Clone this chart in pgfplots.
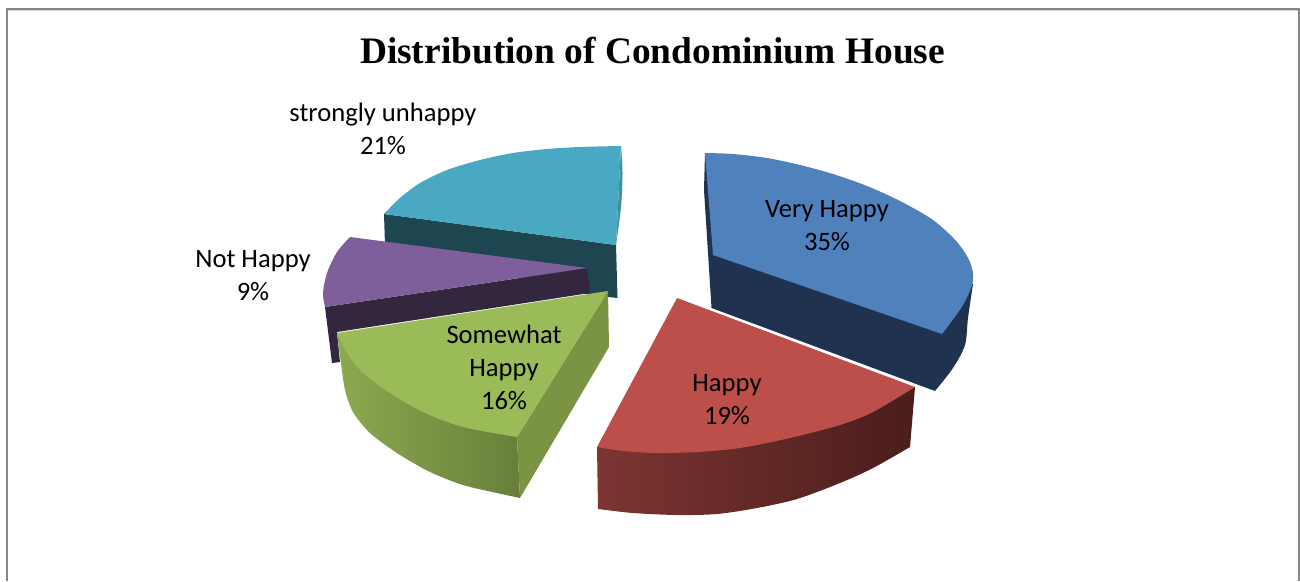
\documentclass[border=0pt]{standalone}
\usepackage{pgfplots}
\pgfplotsset{compat=1.18}
\usepackage{fontspec}
\setmainfont{Carlito}
\newfontfamily\titlefont{Liberation Serif}
\definecolor{cBlue}{HTML}{4F81BD}
\definecolor{cBlueD}{HTML}{1F3350}
\definecolor{cRed}{HTML}{BD4F4B}
\definecolor{cRedL}{HTML}{7C3532}
\definecolor{cRedM}{HTML}{54221F}
\definecolor{cRedR}{HTML}{4A1D1B}
\definecolor{cGreen}{HTML}{9BBB59}
\definecolor{cGreenS}{HTML}{7A9443}
\definecolor{cGreenL}{HTML}{8DA94F}
\definecolor{cGreenR}{HTML}{687F3A}
\definecolor{cPurple}{HTML}{7E5F9C}
\definecolor{cPurpleD}{HTML}{33263F}
\definecolor{cTeal}{HTML}{4AA9C2}
\definecolor{cTealS}{HTML}{3F8FA5}
\definecolor{cTealD}{HTML}{1E4650}
\definecolor{cFrame}{HTML}{868686}
\begin{document}
\begin{tikzpicture}
\begin{axis}[
  scale only axis, width=1300pt, height=581pt,
  xmin=0, xmax=1300, ymin=0, ymax=581, y dir=reverse,
  axis lines=none, clip=true, no markers,
]
% page
\addplot[fill=white, draw=none] coordinates {(0,0) (1300,0) (1300,581) (0,581)};
% frame
\addplot[draw=cFrame, line width=2pt] coordinates {(7,581) (7,9) (1299,9) (1299,581)};
\addplot[draw=black!18, line width=1pt] coordinates {(8,10.5) (1298,10.5)};
% teal
\addplot[fill=cTealD, draw=none] coordinates {(384,214) (616,245) (617.5,298) (590,295) (385,245)};
\addplot[smooth, fill=cTealS, draw=none] coordinates {(621,146) (622.5,173) (621,207) (616,245)};
\addplot[smooth, fill=cTeal, draw=none] coordinates {(621,146) (580,147) (547,149) (513,153) (480,160) (447,170) (420,183) (400,198) (384,214)} -- (axis cs:616,245) -- cycle;
% purple
\addplot[fill=cPurpleD, draw=none] coordinates {(325,307) (587,268) (590,293) (337,332) (340,362) (332,363)};
\addplot[smooth, fill=cPurple, draw=none] coordinates {(350,237) (337,252) (327,273) (323,293) (325,307)} -- (axis cs:587,268) -- cycle;
% green
\addplot[smooth, left color=cGreenL, right color=cGreenR, draw=none] coordinates {(341,363) (345,390) (353,412) (370,433) (397,453) (430,472) (463,485) (497,493) (520,498)} -- (axis cs:517,437) -- (axis cs:337,333) -- cycle;
\addplot[fill=cGreenS, draw=none] coordinates {(608,291) (609,347) (520,498) (517,437)};
\addplot[smooth, fill=cGreen, draw=none] coordinates {(337,333) (347,353) (363,373) (390,393) (423,412) (463,427) (517,437)} -- (axis cs:608,291) -- cycle;
% red
\addplot[smooth, left color=cRedL, middle color=cRedM, right color=cRedR, draw=none] coordinates {(598,509) (633,513) (677,515) (717,514) (757,508) (797,499) (840,483) (873,468) (910,447)} -- (axis cs:915,387) -- (axis cs:597,447) -- cycle;
\addplot[smooth, fill=cRed, draw=none] coordinates {(597,447) (623,451) (657,453) (697,452) (740,448) (790,438) (840,425) (873,412) (915,387)} -- (axis cs:677,298) -- cycle;
% blue
\addplot[smooth, fill=cBlueD, draw=none] coordinates {(973,284) (968,318) (965,345) (953,368) (935,391)} -- (axis cs:711.5,308) -- (axis cs:704,190) -- (axis cs:705,153) -- (axis cs:800,200) -- cycle;
\addplot[smooth, fill=cBlue, draw=none] coordinates {(705,153) (733,154) (767,158) (800,165) (833,174) (867,186) (900,201) (933,220) (957,242) (970,262) (973,281) (963,305) (942,334)} -- (axis cs:713,255) -- cycle;
% text
\node[font=\titlefont\bfseries\fontsize{37.4}{40}\selectfont] at (axis cs:652.5,51) {Distribution of Condominium House};
\node[align=center, font=\fontsize{26.6}{33}\selectfont] at (axis cs:827,225.5) {Very Happy\\35\%};
\node[align=center, font=\fontsize{26.6}{33}\selectfont] at (axis cs:727,399.5) {Happy\\19\%};
\node[align=center, font=\fontsize{26.6}{33}\selectfont] at (axis cs:504,367.5) {Somewhat\\Happy\\16\%};
\node[align=center, font=\fontsize{26.6}{33}\selectfont] at (axis cs:253,275.5) {Not Happy\\9\%};
\node[align=center, font=\fontsize{26.6}{33}\selectfont] at (axis cs:383,129) {strongly unhappy\\21\%};
\end{axis}
\end{tikzpicture}
\end{document}
